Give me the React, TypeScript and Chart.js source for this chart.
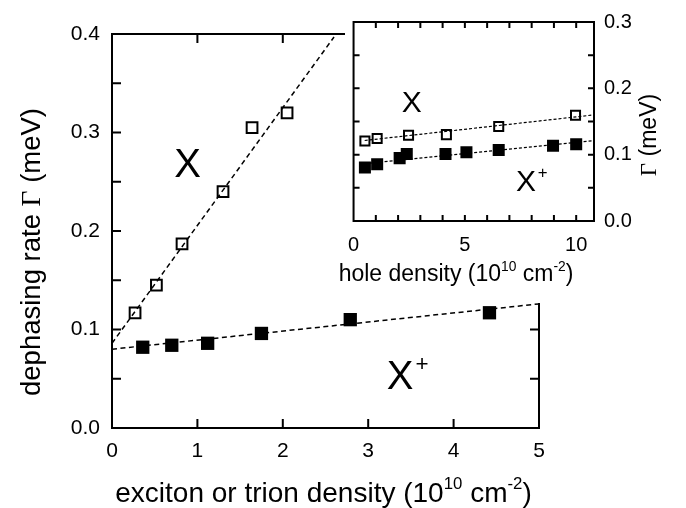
import React, { useEffect, useRef } from 'react';
import { Chart, registerables } from 'chart.js';

Chart.register(...registerables);

// ---------- Main panel data ----------
const excitonDensity = [0.27, 0.52, 0.82, 1.30, 1.64, 2.05];
const excitonRate = [0.117, 0.145, 0.187, 0.240, 0.305, 0.320];
const trionDensity = [0.36, 0.70, 1.12, 1.75, 2.79, 4.42];
const trionRate = [0.082, 0.084, 0.086, 0.096, 0.110, 0.117];
const excitonFitDensity = [0, 2.6];
const excitonFitRate = [0.086, 0.397];
const trionFitDensity = [0, 5];
const trionFitRate = [0.080, 0.126];
const mainXTicks = [1, 2, 3, 4];
const mainYTicks = [0.05, 0.1, 0.15, 0.2, 0.25, 0.3, 0.35];

// ---------- Inset data ----------
const holeDensityX = [0.51, 1.06, 2.47, 4.17, 6.52, 9.97];
const holeRateX = [0.1206, 0.1243, 0.1292, 0.1302, 0.1424, 0.1593];
const holeDensityT = [0.51, 1.06, 2.07, 2.39, 4.13, 5.07, 6.52, 8.96, 10.0];
const holeRateT = [0.0806, 0.0855, 0.0948, 0.101, 0.101, 0.1035, 0.107, 0.1133, 0.1156];
const insetFitDensity = [0.5, 10.8];
const insetFitRateX = [0.1214, 0.160];
const insetFitRateT = [0.0865, 0.1213];
const insetXTicks = [1, 2, 3, 4, 5, 6, 7, 8, 9, 10];
const insetYTicks = [0.05, 0.1, 0.15, 0.2, 0.25];

const SANS = '"Liberation Sans", Arial, Helvetica, sans-serif';
const SERIF = '"Liberation Serif", "Times New Roman", serif';

type Seg = { t: string; s?: number; dy?: number; serif?: boolean };

function drawSegs(ctx: CanvasRenderingContext2D, segs: Seg[], size: number, x: number, y: number, angle = 0) {
  ctx.save();
  ctx.translate(x, y);
  ctx.rotate(angle);
  const fontOf = (sg: Seg) => `${(sg.s ?? 1) * size}px ${sg.serif ? SERIF : SANS}`;
  let total = 0;
  const widths = segs.map((sg) => {
    ctx.font = fontOf(sg);
    const w = ctx.measureText(sg.t).width;
    total += w;
    return w;
  });
  let cx = -total / 2;
  ctx.textAlign = 'left';
  ctx.textBaseline = 'alphabetic';
  ctx.fillStyle = '#000';
  segs.forEach((sg, i) => {
    ctx.font = fontOf(sg);
    ctx.fillText(sg.t, cx, -(sg.dy ?? 0) * size);
    cx += widths[i];
  });
  ctx.restore();
}

function drawSpecies(ctx: CanvasRenderingContext2D, cx: number, cy: number, size: number, plus: boolean) {
  ctx.save();
  ctx.fillStyle = '#000';
  ctx.textAlign = 'center';
  ctx.textBaseline = 'alphabetic';
  ctx.font = `${size}px ${SANS}`;
  ctx.fillText('X', cx, cy + 0.358 * size);
  if (plus) {
    const ps = size * 0.56;
    ctx.font = `${ps}px ${SANS}`;
    ctx.fillText('+', cx + 0.55 * size, cy - 0.27 * size + 0.35 * ps);
  }
  ctx.restore();
}

function drawFrame(chart: any, xt: number[], yt: number[], len: number, lw: number) {
  const { ctx, chartArea: a, scales } = chart;
  const xs = scales.x;
  const ys = scales.y;
  ctx.save();
  ctx.strokeStyle = '#000';
  ctx.lineWidth = lw;
  ctx.beginPath();
  xt.forEach((v) => {
    const px = xs.getPixelForValue(v);
    ctx.moveTo(px, a.bottom);
    ctx.lineTo(px, a.bottom - len);
    ctx.moveTo(px, a.top);
    ctx.lineTo(px, a.top + len);
  });
  yt.forEach((v) => {
    const py = ys.getPixelForValue(v);
    ctx.moveTo(a.left, py);
    ctx.lineTo(a.left + len, py);
    ctx.moveTo(a.right, py);
    ctx.lineTo(a.right - len, py);
  });
  ctx.stroke();
  ctx.strokeRect(a.left, a.top, a.right - a.left, a.bottom - a.top);
  ctx.restore();
}

const pts = (xs: number[], ys: number[]) => xs.map((x, i) => ({ x, y: ys[i] }));

function axisOpts(min: number, max: number, step: number, size: number, pad: number, fmt: (v: number) => string, fit: (s: any) => void, extra: any = {}) {
  return {
    type: 'linear',
    min,
    max,
    ...extra,
    grid: { display: false, drawTicks: false, tickLength: 0 },
    border: { display: false },
    ticks: {
      stepSize: step,
      includeBounds: false,
      padding: pad,
      color: '#000',
      font: { size, family: SANS },
      callback: (v: any) => fmt(Number(v)),
    },
    afterFit: fit,
  };
}

export default function App() {
  const mainRef = useRef<HTMLCanvasElement>(null);
  const insetRef = useRef<HTMLCanvasElement>(null);

  useEffect(() => {
    const mainPlugin = {
      id: 'mainDecor',
      afterDraw(chart: any) {
        const { ctx, chartArea: a, scales } = chart;
        drawFrame(chart, mainXTicks, mainYTicks, 9, 2);
        drawSpecies(ctx, scales.x.getPixelForValue(0.884), scales.y.getPixelForValue(0.2697), 40, false);
        drawSpecies(ctx, scales.x.getPixelForValue(3.372), scales.y.getPixelForValue(0.0546), 40, true);
        drawSegs(ctx, [
          { t: 'exciton or trion density (10' },
          { t: '10', s: 0.6, dy: 0.45 },
          { t: ' cm' },
          { t: '-2', s: 0.6, dy: 0.45 },
          { t: ')' },
        ], 28, (a.left + a.right) / 2 - 2, 502);
        drawSegs(ctx, [{ t: 'dephasing rate ' }, { t: 'Γ', serif: true }, { t: ' (meV)' }], 27.5, 40, 252, -Math.PI / 2);
      },
    };

    const insetPlugin = {
      id: 'insetDecor',
      beforeDraw(chart: any) {
        const { ctx, width, height } = chart;
        ctx.save();
        ctx.fillStyle = '#fff';
        ctx.fillRect(9, 0, width - 9, height);
        ctx.restore();
      },
      afterDraw(chart: any) {
        const { ctx, scales } = chart;
        drawFrame(chart, insetXTicks, insetYTicks, 6, 2);
        drawSpecies(ctx, scales.x.getPixelForValue(2.61), scales.y.getPixelForValue(0.181), 30, false);
        drawSpecies(ctx, scales.x.getPixelForValue(7.75), scales.y.getPixelForValue(0.0609), 30, true);
        drawSegs(ctx, [
          { t: 'hole density (10' },
          { t: '10', s: 0.6, dy: 0.45 },
          { t: ' cm' },
          { t: '-2', s: 0.6, dy: 0.45 },
          { t: ')' },
        ], 23, 120, 281);
        drawSegs(ctx, [{ t: 'Γ', serif: true }, { t: ' (meV)' }], 23, 320, 135, -Math.PI / 2);
      },
    };

    const main = new Chart(mainRef.current as HTMLCanvasElement, {
      type: 'scatter',
      data: {
        datasets: [
          {
            data: pts(excitonDensity, excitonRate),
            pointStyle: 'rect',
            pointRadius: 7.6,
            borderColor: '#000',
            borderWidth: 2,
            backgroundColor: 'rgba(0,0,0,0)',
            showLine: false,
          },
          {
            data: pts(trionDensity, trionRate),
            pointStyle: 'rect',
            pointRadius: 9.4,
            borderWidth: 0,
            backgroundColor: '#000',
            showLine: false,
          },
          {
            data: pts(excitonFitDensity, excitonFitRate),
            showLine: true,
            pointRadius: 0,
            borderColor: '#000',
            borderWidth: 1.5,
            borderDash: [5, 3.5],
            fill: false,
          },
          {
            data: pts(trionFitDensity, trionFitRate),
            showLine: true,
            pointRadius: 0,
            borderColor: '#000',
            borderWidth: 1.5,
            borderDash: [5, 3.5],
            fill: false,
          },
        ],
      } as any,
      options: {
        animation: false,
        responsive: false,
        events: [],
        layout: { padding: { left: 0, top: 34, right: 147, bottom: 0 } },
        plugins: { legend: { display: false }, tooltip: { enabled: false } },
        scales: {
          x: axisOpts(0, 5, 1, 21, 11, (v) => String(v), (s: any) => { s.height = 80; }),
          y: axisOpts(0, 0.4, 0.1, 21, 12, (v) => v.toFixed(1), (s: any) => { s.width = 112; }),
        },
      } as any,
      plugins: [mainPlugin],
    });

    const inset = new Chart(insetRef.current as HTMLCanvasElement, {
      type: 'scatter',
      data: {
        datasets: [
          {
            data: pts(holeDensityX, holeRateX),
            pointStyle: 'rect',
            pointRadius: 6.4,
            borderColor: '#000',
            borderWidth: 2,
            backgroundColor: 'rgba(0,0,0,0)',
            showLine: false,
          },
          {
            data: pts(holeDensityT, holeRateT),
            pointStyle: 'rect',
            pointRadius: 8.5,
            borderWidth: 0,
            backgroundColor: '#000',
            showLine: false,
          },
          {
            data: pts(insetFitDensity, insetFitRateX),
            showLine: true,
            pointRadius: 0,
            borderColor: '#000',
            borderWidth: 1.2,
            borderDash: [3, 2],
            fill: false,
          },
          {
            data: pts(insetFitDensity, insetFitRateT),
            showLine: true,
            pointRadius: 0,
            borderColor: '#000',
            borderWidth: 1.2,
            borderDash: [3, 2],
            fill: false,
          },
        ],
      } as any,
      options: {
        animation: false,
        responsive: false,
        events: [],
        layout: { padding: { left: 9, top: 15, right: 0, bottom: 0 } },
        plugins: { legend: { display: false }, tooltip: { enabled: false } },
        scales: {
          x: axisOpts(0, 10.8, 5, 20, 12, (v) => String(v), (s: any) => { s.height = 82; }),
          y: axisOpts(0, 0.3, 0.1, 20, 10, (v) => v.toFixed(1), (s: any) => { s.width = 92; }, { position: 'right' }),
        },
      } as any,
      plugins: [insetPlugin],
    });

    return () => {
      main.destroy();
      inset.destroy();
    };
  }, []);

  return (
    <div style={{ position: 'fixed', left: 0, top: 0, width: 686, height: 508, background: '#fff', overflow: 'hidden' }}>
      <canvas ref={mainRef} width={686} height={508} style={{ position: 'absolute', left: 0, top: 0 }} />
      <canvas ref={insetRef} width={350} height={303} style={{ position: 'absolute', left: 336, top: 0 }} />
    </div>
  );
}
